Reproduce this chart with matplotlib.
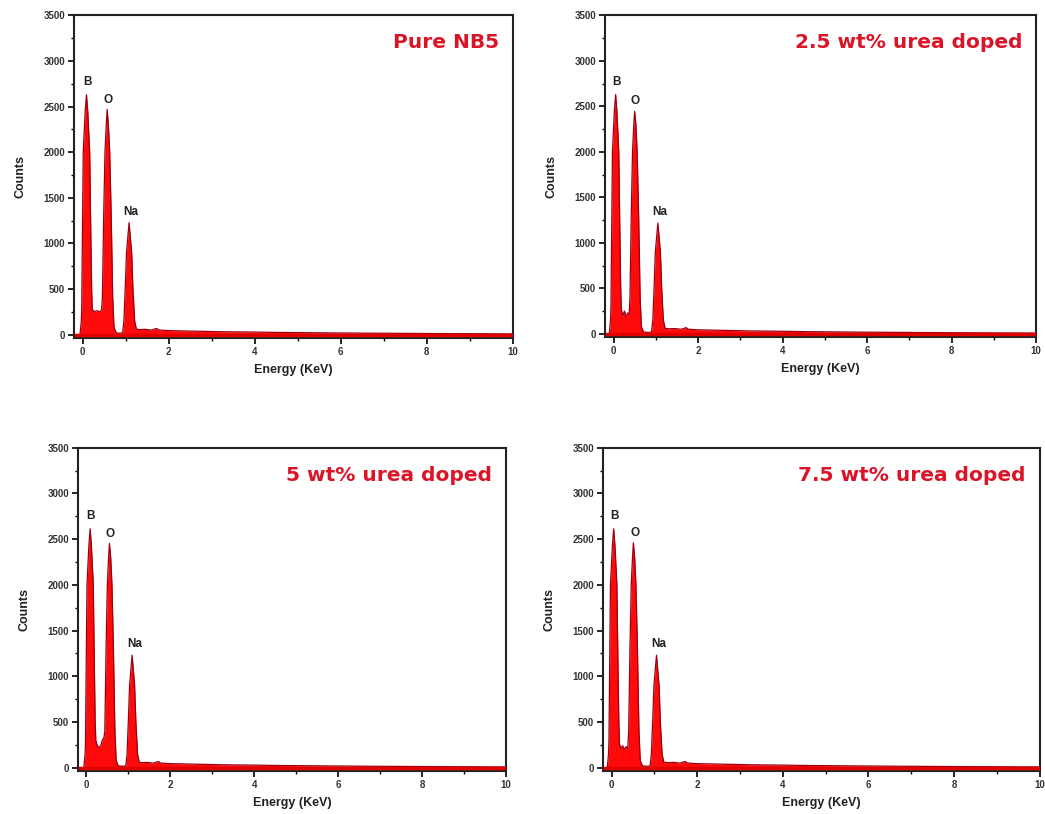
import numpy as np
import matplotlib
matplotlib.use("Agg")
import matplotlib.pyplot as plt
from matplotlib.ticker import MultipleLocator

# Panel titles
titles = ["Pure NB5", "2.5 wt% urea doped", "5 wt% urea doped", "7.5 wt% urea doped"]

# tail of the spectrum past the Na peak (shared shape)
tail_energy = [1.32, 1.45, 1.60, 1.72, 1.76, 1.85, 2.0, 2.4, 2.8, 3.2, 3.6, 4.0, 4.5, 5.0,
               6.0, 7.0, 8.0, 9.0, 10.0]
tail_counts = [55, 58, 50, 68, 52, 48, 44, 40, 36, 32, 30, 28, 24, 22,
               18, 15, 12, 10, 8]

# EDX spectra (energy in keV, counts), up to the Na peak
energy_pure = [-0.15, -0.06, -0.03, -0.02, 0.0, 0.015, 0.06, 0.09, 0.12, 0.165, 0.185, 0.21, 0.225,
               0.28, 0.34, 0.40, 0.44, 0.46, 0.49, 0.52, 0.55, 0.57, 0.60, 0.63, 0.665, 0.70, 0.73,
               0.78, 0.86, 0.93, 0.96, 0.99, 1.02, 1.08, 1.14, 1.17, 1.21, 1.25]
counts_pure = [0, 0, 150, 300, 1300, 2000, 2450, 2630, 2450, 2000, 1300, 500, 270,
               255, 262, 250, 270, 400, 1300, 2000, 2300, 2470, 2300, 2000, 1300, 400, 80,
               20, 15, 20, 150, 500, 900, 1228, 900, 500, 150, 60]

energy_25 = [-0.15, -0.10, -0.07, -0.06, -0.04, -0.025, 0.02, 0.05, 0.08, 0.125, 0.145, 0.17, 0.185,
             0.22, 0.26, 0.30, 0.34, 0.37, 0.39, 0.42, 0.45, 0.48, 0.50, 0.53, 0.56, 0.595, 0.63,
             0.66, 0.71, 0.83, 0.90, 0.93, 0.96, 0.99, 1.05, 1.11, 1.14, 1.18, 1.22]
counts_25 = [0, 0, 150, 300, 1300, 2000, 2450, 2630, 2450, 2000, 1300, 500, 270,
             200, 250, 190, 230, 210, 400, 1300, 2000, 2300, 2446, 2300, 2000, 1300, 400,
             80, 20, 15, 20, 150, 500, 900, 1218, 900, 500, 150, 60]

energy_5 = [-0.15, -0.06, -0.03, -0.02, 0.0, 0.015, 0.06, 0.09, 0.12, 0.165, 0.185, 0.21, 0.225,
            0.26, 0.30, 0.34, 0.38, 0.42, 0.44, 0.47, 0.50, 0.53, 0.55, 0.58, 0.61, 0.645, 0.68,
            0.71, 0.76, 0.87, 0.94, 0.97, 1.00, 1.03, 1.09, 1.15, 1.18, 1.22, 1.26]
counts_5 = [0, 0, 150, 300, 1300, 2000, 2430, 2613, 2430, 2000, 1300, 500, 300,
            240, 220, 240, 300, 330, 400, 1300, 2000, 2300, 2453, 2300, 2000, 1300, 400,
            80, 20, 15, 20, 150, 500, 900, 1230, 900, 500, 150, 60]

energy_75 = [-0.15, -0.10, -0.07, -0.06, -0.04, -0.025, 0.02, 0.05, 0.08, 0.125, 0.145, 0.17, 0.185,
             0.22, 0.26, 0.30, 0.34, 0.38, 0.40, 0.43, 0.46, 0.49, 0.51, 0.54, 0.57, 0.605, 0.64,
             0.67, 0.72, 0.83, 0.90, 0.93, 0.96, 0.99, 1.05, 1.11, 1.14, 1.18, 1.22]
counts_75 = [0, 0, 150, 300, 1300, 2000, 2430, 2613, 2430, 2000, 1300, 500, 260,
             210, 240, 200, 230, 210, 400, 1300, 2000, 2300, 2460, 2300, 2000, 1300, 400,
             80, 20, 15, 20, 150, 500, 900, 1230, 900, 500, 150, 60]

spectra = [(energy_pure, counts_pure), (energy_25, counts_25),
           (energy_5, counts_5), (energy_75, counts_75)]

# peak labels: (label, energy, counts) per panel
peak_labels = [
    [("B", 0.11, 2770), ("O", 0.59, 2575), ("Na", 1.13, 1350)],
    [("B", 0.07, 2770), ("O", 0.52, 2555), ("Na", 1.10, 1340)],
    [("B", 0.10, 2750), ("O", 0.57, 2560), ("Na", 1.15, 1350)],
    [("B", 0.07, 2750), ("O", 0.54, 2565), ("Na", 1.10, 1350)],
]

# axes rectangles in figure fraction
rects = [[0.0708, 0.585, 0.420, 0.396],
         [0.579, 0.586, 0.4124, 0.395],
         [0.0746, 0.053, 0.4096, 0.397],
         [0.577, 0.053, 0.418, 0.397]]

fig = plt.figure(figsize=(10.45, 8.14), dpi=100)
tick_font = "Liberation Sans"

for i in range(4):
    ax = fig.add_axes(rects[i])
    e, c = spectra[i]
    e = list(e) + tail_energy
    c = list(c) + tail_counts
    ax.fill_between(e, 0, c, color="#ff0a0a", linewidth=0, zorder=2)
    ax.plot(e, c, color="#9a0010", linewidth=0.9, zorder=3)
    ax.plot(e, np.zeros(len(e)), color="#e00000", linewidth=2.5, zorder=3)

    ax.set_xlim(-0.2, 10)
    ax.set_ylim(-35, 3500)
    ax.xaxis.set_major_locator(MultipleLocator(2))
    ax.xaxis.set_minor_locator(MultipleLocator(1))
    ax.yaxis.set_major_locator(MultipleLocator(500))
    ax.yaxis.set_minor_locator(MultipleLocator(250))
    ax.tick_params(which="major", direction="out", length=4.5, width=1.2, pad=2,
                   labelsize=7, top=False, right=False)
    ax.tick_params(which="minor", direction="out", length=2.5, width=1.0,
                   top=False, right=False)
    for lab in ax.get_xticklabels() + ax.get_yticklabels():
        lab.set_fontweight("bold")
        lab.set_family(tick_font)
        lab.set_color("#333333")
    for sp in ax.spines.values():
        sp.set_linewidth(1.5)
        sp.set_color("#222222")

    ax.set_xlabel("Energy (KeV)", fontsize=9, fontweight="bold", family=tick_font,
                  labelpad=5, color="#222222")
    ax.set_ylabel("Counts", fontsize=9, fontweight="bold", family=tick_font,
                  labelpad=12, color="#222222")

    for name, x, y in peak_labels[i]:
        ax.text(x, y, name, ha="center", va="center", fontsize=8.5, fontweight="bold",
                family=tick_font, color="#222222", zorder=4)

    ax.text(0.968, 0.915, titles[i], transform=ax.transAxes, ha="right", va="center",
            fontsize=14.5, fontweight="bold", color="#dc1428", family="DejaVu Sans")

fig.savefig("out.png", dpi=100)
